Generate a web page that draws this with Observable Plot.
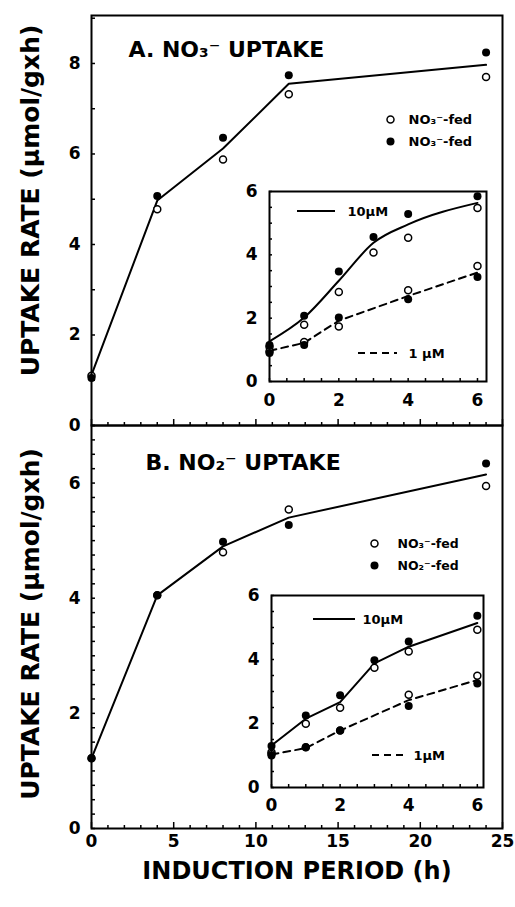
<!DOCTYPE html>
<html><head><meta charset="utf-8">
<script src="https://cdn.jsdelivr.net/npm/d3@7"></script>
<script src="https://cdn.jsdelivr.net/npm/@observablehq/plot@0.6"></script>
<style>
body{margin:0;background:#fff;}
#chart{position:relative;width:515px;height:907px;background:#fff;}
#chart svg{position:absolute;left:0;top:0;}
</style></head><body><div id="chart"></div>
<script>
// ---------- data ----------
const mainHours = [0, 4, 8, 12, 24];
const aOpen   = [1.10, 4.78, 5.88, 7.32, 7.70];
const aFilled = [1.05, 5.07, 6.36, 7.74, 8.24];
const aFit    = [1.12, 4.97, 6.12, 7.55, 7.97];
const bOpen   = [1.22, 4.05, 4.80, 5.54, 5.95];
const bFilled = [1.22, 4.05, 4.98, 5.27, 6.34];
const bFit    = [1.22, 4.05, 4.90, 5.40, 6.15];

const insetHours10 = [0, 1, 2, 3, 4, 6];
const insetHours1  = [0, 1, 2, 4, 6];
// inset A (NO3- uptake, short times)
const aIn10Open   = [1.10, 1.79, 2.83, 4.07, 4.54, 5.48];
const aIn10Filled = [1.15, 2.08, 3.47, 4.56, 5.29, 5.85];
const aIn10Fit    = [1.27, 2.02, 3.18, 4.38, 4.96, 5.64];
const aIn1Open    = [0.95, 1.25, 1.74, 2.88, 3.65];
const aIn1Filled  = [0.90, 1.15, 2.02, 2.60, 3.30];
const aIn1Fit     = [0.97, 1.22, 1.92, 2.70, 3.44];
// inset B (NO2- uptake, short times)
const bIn10Open   = [1.10, 1.99, 2.49, 3.74, 4.25, 4.93];
const bIn10Filled = [1.30, 2.25, 2.88, 3.98, 4.56, 5.37];
const bIn10Fit    = [1.31, 2.15, 2.67, 3.88, 4.40, 5.14];
const bIn1Open    = [1.05, 1.26, 1.78, 2.90, 3.49];
const bIn1Filled  = [1.00, 1.26, 1.78, 2.55, 3.25];
const bIn1Fit     = [1.03, 1.23, 1.78, 2.73, 3.36];

// labels / ticks
const titleA = "A. NO₃⁻ UPTAKE";
const titleB = "B. NO₂⁻ UPTAKE";
const legendA = ["NO₃⁻-fed", "NO₃⁻-fed"];
const legendB = ["NO₃⁻-fed", "NO₂⁻-fed"];
const insetLegendA = ["10µM", "1 µM"];
const insetLegendB = ["10µM", "1µM"];
const yTitle = "UPTAKE RATE (µmol/gxh)";
const xTitle = "INDUCTION PERIOD (h)";
const mainXTicks = [0, 5, 10, 15, 20, 25];
const aYTicks = [0, 2, 4, 6, 8];
const bYTicks = [0, 2, 4, 6];
const insetTicks = [0, 2, 4, 6];

// ---------- helpers ----------
const rows = (xs, ys) => xs.map((t, i) => ({t, v: ys[i]}));
const FONT = "'DejaVu Sans', sans-serif";
const range = (a, b, s) => d3.range(a, b + s / 2, s);
const fmt = d => String(d);
const none = () => "";

function seg(x1, x2, y, dash) {
  return (index, scales, values, dim) => {
    const l = document.createElementNS("http://www.w3.org/2000/svg", "line");
    l.setAttribute("x1", dim.marginLeft + x1);
    l.setAttribute("x2", dim.marginLeft + x2);
    l.setAttribute("y1", dim.marginTop + y);
    l.setAttribute("y2", dim.marginTop + y);
    l.setAttribute("stroke", "black");
    l.setAttribute("stroke-width", 2);
    if (dash) l.setAttribute("stroke-dasharray", dash);
    return l;
  };
}

function label(text, dx, dy, size) {
  return Plot.text([text], {frameAnchor: "top-left", dx, dy, textAnchor: "start", lineAnchor: "middle", fontSize: size});
}

function seriesMarks(hours, open, filled, fit, opts = {}) {
  return [
    Plot.line(rows(hours, fit), {x: "t", y: "v", stroke: "black", strokeWidth: 2, strokeDasharray: opts.dash, curve: opts.curve || "linear"}),
    Plot.dot(rows(hours, open), {x: "t", y: "v", r: 3.5, fill: "white", stroke: "black", strokeWidth: 1.5}),
    Plot.dot(rows(hours, filled), {x: "t", y: "v", r: 4, fill: "black"})
  ];
}

function make(m, xDomain, yDomain, marks) {
  const svg = Plot.plot({
    width: 515, height: 907,
    marginLeft: m[0], marginRight: m[1], marginTop: m[2], marginBottom: m[3],
    x: {domain: xDomain},
    y: {domain: yDomain},
    style: {fontFamily: FONT, fontWeight: "bold", fontSize: "17px", color: "black", background: "transparent", overflow: "visible"},
    marks
  });
  svg.style.position = "absolute";
  svg.style.left = "0px";
  svg.style.top = "0px";
  svg.style.background = "transparent";
  svg.style.maxWidth = "none";
  document.getElementById("chart").appendChild(svg);
}

// ---------- main panel A ----------
make([91, 13, 15, 482], [0, 25], [0, 9.06], [
  Plot.axisY(range(0, 9, 1), {tickSize: -4, strokeWidth: 1.5, tickFormat: none, label: null}),
  Plot.axisY(aYTicks, {tickSize: 0, tickPadding: 11, tickFormat: fmt, label: null}),
  Plot.axisX(range(0, 25, 1).filter(d => d % 5), {tickSize: -3, strokeWidth: 1.5, tickFormat: none, label: null}),
  Plot.axisX(mainXTicks, {tickSize: -6, strokeWidth: 1.5, tickFormat: none, label: null}),
  ...seriesMarks(mainHours, aOpen, aFilled, aFit),
  Plot.frame({stroke: "black", strokeWidth: 2}),
  label(titleA, 37, 34, 22),
  Plot.dot([0], {frameAnchor: "top-left", dx: 299, dy: 104, r: 3.5, fill: "white", stroke: "black", strokeWidth: 1.5}),
  Plot.dot([0], {frameAnchor: "top-left", dx: 299, dy: 126, r: 4, fill: "black"}),
  label(legendA[0], 317, 104, 13),
  label(legendA[1], 317, 126, 13),
  Plot.text([yTitle], {frameAnchor: "left", rotate: -90, textAnchor: "middle", lineAnchor: "middle", dx: -61, dy: -20, fontSize: 25})
]);

// ---------- main panel B ----------
make([91, 13, 425, 79], [0, 25], [0, 7], [
  Plot.axisY(range(0, 7, 0.25), {tickSize: -4, strokeWidth: 1.5, tickFormat: none, label: null}),
  Plot.axisY(bYTicks, {tickSize: 0, tickPadding: 11, tickFormat: fmt, label: null}),
  Plot.axisX(range(0, 25, 1).filter(d => d % 5), {tickSize: -3, strokeWidth: 1.5, tickFormat: none, label: null}),
  Plot.axisX(mainXTicks, {tickSize: -6, strokeWidth: 1.5, tickFormat: none, label: null}),
  Plot.axisX(mainXTicks, {tickSize: 0, tickPadding: 6, tickFormat: fmt, label: null}),
  ...seriesMarks(mainHours, bOpen, bFilled, bFit),
  Plot.frame({stroke: "black", strokeWidth: 2}),
  label(titleB, 54, 37, 22),
  Plot.dot([0], {frameAnchor: "top-left", dx: 283, dy: 118, r: 3.5, fill: "white", stroke: "black", strokeWidth: 1.5}),
  Plot.dot([0], {frameAnchor: "top-left", dx: 283, dy: 140, r: 4, fill: "black"}),
  label(legendB[0], 306, 118, 12.5),
  label(legendB[1], 306, 140, 12.5),
  Plot.text([yTitle], {frameAnchor: "left", rotate: -90, textAnchor: "middle", lineAnchor: "middle", dx: -61, dy: -3, fontSize: 25}),
  Plot.text([xTitle], {frameAnchor: "bottom", lineAnchor: "middle", dy: 43, fontSize: 24})
]);

// ---------- inset A ----------
make([269, 29, 191, 526], [0, 6.26], [0, 6], [
  Plot.axisY(range(0, 6, 0.5), {tickSize: -3, strokeWidth: 1.5, tickFormat: none, label: null}),
  Plot.axisY(insetTicks, {tickSize: 0, tickPadding: 12, tickFormat: fmt, label: null}),
  Plot.axisX(range(0, 6, 0.5), {tickSize: -3, strokeWidth: 1.5, tickFormat: none, label: null}),
  Plot.axisX(insetTicks, {tickSize: 0, tickPadding: 12, tickFormat: fmt, label: null}),
  ...seriesMarks(insetHours10, aIn10Open, aIn10Filled, aIn10Fit, {curve: "monotone-x"}),
  ...seriesMarks(insetHours1, aIn1Open, aIn1Filled, aIn1Fit, {dash: "7,5"}),
  Plot.frame({stroke: "black", strokeWidth: 2}),
  seg(28, 66, 20),
  label(insetLegendA[0], 78, 20, 13),
  seg(89, 128, 162, "7,5"),
  label(insetLegendA[1], 139, 162, 13)
]);

// ---------- inset B ----------
make([271, 32, 595, 120], [0, 6.18], [0, 6], [
  Plot.axisY(range(0, 6, 0.5), {tickSize: -3, strokeWidth: 1.5, tickFormat: none, label: null}),
  Plot.axisY(insetTicks, {tickSize: 0, tickPadding: 12, tickFormat: fmt, label: null}),
  Plot.axisX(range(0, 6, 0.5), {tickSize: -3, strokeWidth: 1.5, tickFormat: none, label: null}),
  Plot.axisX(insetTicks, {tickSize: 0, tickPadding: 11, tickFormat: fmt, label: null}),
  ...seriesMarks(insetHours10, bIn10Open, bIn10Filled, bIn10Fit),
  ...seriesMarks(insetHours1, bIn1Open, bIn1Filled, bIn1Fit, {dash: "7,5"}),
  Plot.frame({stroke: "black", strokeWidth: 2}),
  seg(42, 84, 24),
  label(insetLegendB[0], 91, 24, 13),
  seg(101, 134, 160, "7,5"),
  label(insetLegendB[1], 142, 160, 13)
]);
</script></body></html>
